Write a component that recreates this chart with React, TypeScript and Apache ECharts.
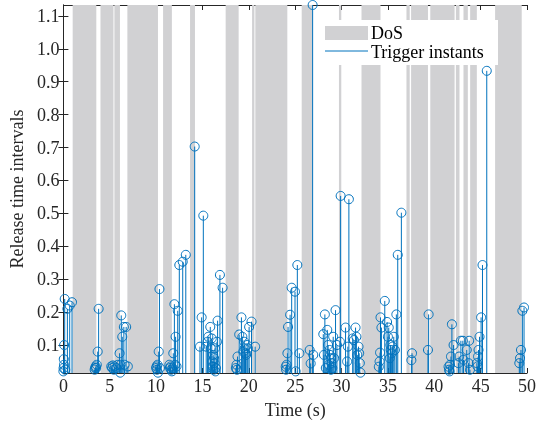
import React, { useEffect, useRef } from "react";
import * as echarts from "echarts";

const yMin = 0.015;
const yMax = 1.133;
const yTicks = [0.1, 0.2, 0.3, 0.4, 0.5, 0.6, 0.7, 0.8, 0.9, 1.0, 1.1];

const dosStart = [1.0, 4.0, 5.5, 6.9, 10.75, 13.66, 17.5, 20.35, 20.7, 25.7, 29.72, 32.15, 37.0, 37.5, 39.57, 42.33, 43.15, 43.87, 46.56];
const dosEnd = [3.55, 5.4, 6.1, 10.2, 11.7, 14.19, 18.9, 20.6, 24.15, 26.9, 29.97, 34.2, 37.35, 39.32, 42.19, 42.72, 43.62, 44.59, 49.43];

const triggerTimes = [
  0.0, 0.02, 0.04, 0.06, 0.08, 0.14, 0.2, 0.43, 0.68, 0.93,
  3.37, 3.42, 3.48, 3.53, 3.6, 3.7, 3.8,
  5.16, 5.25, 5.34, 5.43, 5.52, 5.7, 5.88, 6.06, 6.13, 6.18, 6.24, 6.35, 6.52, 6.6, 6.77, 6.95,
  10.0, 10.05, 10.1, 10.15, 10.2, 10.28, 10.36, 10.42,
  11.43, 11.5, 11.56, 11.62, 11.7, 11.78, 11.85, 11.97, 12.05, 12.1, 12.2, 12.33, 12.5, 12.87, 13.2,
  14.16,
  14.73, 14.91, 15.09, 15.4, 15.55, 15.63, 15.84, 15.9, 16.0, 16.05, 16.1, 16.15, 16.2, 16.25, 16.3, 16.35, 16.4, 16.45, 16.56, 16.63, 16.88, 17.17,
  18.6, 18.67, 18.72, 18.78, 18.96, 19.2, 19.3, 19.4, 19.5, 19.55, 19.64, 19.7, 19.82, 19.9, 20.03, 20.29, 20.68,
  23.98, 24.02, 24.07, 24.16, 24.23, 24.45, 24.62, 24.98, 25.05, 25.23, 25.45,
  26.56, 26.67, 26.88, 26.95,
  28.03, 28.1, 28.2, 28.3, 28.46, 28.55, 28.62, 28.7, 28.75, 28.82, 28.86, 28.9, 29.0, 29.1, 29.2, 29.35, 29.5, 29.82, 29.9,
  30.43, 30.6, 30.68, 30.79, 31.2, 31.33, 31.51, 31.6, 31.7, 31.83, 31.9, 31.97, 32.04,
  34.02, 34.1, 34.15, 34.2, 34.3, 34.66, 34.91, 35.0, 35.09, 35.2, 35.27, 35.3, 35.4, 35.5, 35.63, 35.75, 35.91, 36.06, 36.45,
  37.53, 37.6, 39.32, 39.39,
  41.54, 41.6, 41.65, 41.7, 41.8, 41.9, 42.08, 42.6, 42.68, 42.87, 43.08, 43.15, 43.5, 43.7, 43.76, 43.85,
  44.59, 44.66, 44.72, 44.77, 44.88, 45.05, 45.2, 45.66,
  49.17, 49.25, 49.35, 49.5, 49.68,
];

const intervals = [
  0.02, 0.03, 0.057, 0.04, 0.1, 0.24, 0.025, 0.21, 0.22, 0.23,
  0.025, 0.03, 0.035, 0.03, 0.04, 0.08, 0.21,
  0.035, 0.03, 0.038, 0.025, 0.035, 0.03, 0.04, 0.075, 0.016, 0.04, 0.19, 0.125, 0.155, 0.04, 0.155, 0.035,
  0.03, 0.035, 0.025, 0.04, 0.016, 0.08, 0.27, 0.03,
  0.04, 0.03, 0.035, 0.025, 0.02, 0.03, 0.075, 0.224, 0.04, 0.125, 0.035, 0.204, 0.343, 0.353, 0.374,
  0.703,
  0.095, 0.184, 0.493, 0.095, 0.11, 0.125, 0.155, 0.09, 0.12, 0.05, 0.035, 0.07, 0.025, 0.06, 0.045, 0.09, 0.02, 0.03, 0.11, 0.174, 0.313, 0.274,
  0.03, 0.04, 0.025, 0.065, 0.132, 0.184, 0.125, 0.08, 0.11, 0.09, 0.075, 0.07, 0.1, 0.09, 0.155, 0.171, 0.095,
  0.034, 0.025, 0.04, 0.075, 0.155, 0.192, 0.274, 0.262, 0.02, 0.343, 0.075,
  0.085, 0.044, 1.133, 0.07,
  0.133, 0.07, 0.193, 0.03, 0.146, 0.1, 0.04, 0.085, 0.07, 0.06, 0.025, 0.045, 0.03, 0.125, 0.06, 0.206, 0.1, 0.11, 0.553,
  0.153, 0.05, 0.095, 0.543, 0.12, 0.115, 0.153, 0.125, 0.07, 0.095, 0.075, 0.045, 0.016,
  0.034, 0.05, 0.077, 0.184, 0.153, 0.234, 0.17, 0.125, 0.153, 0.06, 0.1, 0.085, 0.075, 0.095, 0.125, 0.085, 0.193, 0.374, 0.502,
  0.054, 0.075, 0.085, 0.193,
  0.034, 0.025, 0.02, 0.04, 0.065, 0.163, 0.1, 0.045, 0.065, 0.113, 0.113, 0.055, 0.085, 0.045, 0.113, 0.025,
  0.045, 0.035, 0.065, 0.085, 0.125, 0.184, 0.343, 0.933,
  0.045, 0.06, 0.085, 0.204, 0.214,
];

const FONT = "Liberation Serif";
const AXIS_COLOR = "#262626";
const BLUE = "#0072BD";
const GRAY = "#d1d1d3";
const FS = 18;

export default function App() {
  const ref = useRef<HTMLDivElement>(null);
  useEffect(() => {
    if (!ref.current) return;
    const chart = echarts.init(ref.current, undefined, { renderer: "svg" });
    const dosData = dosStart.map((s, i) => [s, dosEnd[i]]);
    const stemData = triggerTimes.map((t, i) => [t, intervals[i]]);
    const axisLine = { show: true, lineStyle: { color: AXIS_COLOR, width: 1 } };
    const option: any = {
      animation: false,
      grid: { left: 62, right: 18, top: 5, bottom: 52 },
      xAxis: [
        {
          type: "value", min: 0, max: 50, interval: 5, position: "bottom",
          axisLine, axisTick: { show: true, inside: true, length: 5, lineStyle: { color: AXIS_COLOR } },
          axisLabel: { fontFamily: FONT, fontSize: FS, color: AXIS_COLOR, margin: 4 },
          splitLine: { show: false },
          name: "Time (s)", nameLocation: "middle", nameGap: 28,
          nameTextStyle: { fontFamily: FONT, fontSize: FS, color: AXIS_COLOR },
        },
        {
          type: "value", min: 0, max: 50, interval: 5, position: "top",
          axisLine, axisTick: { show: true, inside: true, length: 5, lineStyle: { color: AXIS_COLOR } },
          axisLabel: { show: false }, splitLine: { show: false },
        },
      ],
      yAxis: [
        {
          type: "value", min: yMin, max: yMax, position: "left",
          axisLine,
          axisTick: { show: true, inside: true, length: 5, customValues: yTicks, lineStyle: { color: AXIS_COLOR } },
          axisLabel: {
            customValues: yTicks, fontFamily: FONT, fontSize: FS, color: AXIS_COLOR, margin: 4,
            formatter: (v: number) => v.toFixed(1),
          },
          splitLine: { show: false },
          name: "Release time intervals", nameLocation: "middle", nameGap: 31,
          nameTextStyle: { fontFamily: FONT, fontSize: FS, color: AXIS_COLOR },
        },
        {
          type: "value", min: yMin, max: yMax, position: "right",
          axisLine,
          axisTick: { show: true, inside: true, length: 5, customValues: yTicks, lineStyle: { color: AXIS_COLOR } },
          axisLabel: { show: false }, splitLine: { show: false },
        },
      ],
      series: [
        {
          type: "custom", name: "DoS", xAxisIndex: 0, yAxisIndex: 0, z: 1,
          data: dosData,
          renderItem: (params: any, api: any) => {
            const p0 = api.coord([api.value(0), yMax]);
            const p1 = api.coord([api.value(1), yMin]);
            return {
              type: "rect",
              shape: { x: p0[0], y: p0[1], width: p1[0] - p0[0], height: p1[1] - p0[1] },
              style: { fill: GRAY },
            };
          },
        },
        {
          type: "custom", name: "Trigger instants", xAxisIndex: 0, yAxisIndex: 0, z: 3,
          data: stemData,
          renderItem: (params: any, api: any) => {
            const base = api.coord([api.value(0), yMin]);
            const top = api.coord([api.value(0), api.value(1)]);
            return {
              type: "group",
              children: [
                { type: "line", shape: { x1: base[0], y1: base[1], x2: top[0], y2: top[1] }, style: { stroke: BLUE, lineWidth: 1 } },
                { type: "circle", shape: { cx: top[0], cy: top[1], r: 4.5 }, style: { fill: "none", stroke: BLUE, lineWidth: 1 } },
              ],
            };
          },
        },
      ],
      graphic: [
        { type: "rect", z: 100, zlevel: 1, shape: { x: 322, y: 20, width: 176, height: 45 }, style: { fill: "#ffffff" } },
        { type: "rect", z: 101, zlevel: 1, shape: { x: 325, y: 26, width: 43, height: 14 }, style: { fill: GRAY } },
        { type: "line", z: 101, zlevel: 1, shape: { x1: 325, y1: 51, x2: 368, y2: 51 }, style: { stroke: BLUE, lineWidth: 1 } },
        { type: "text", z: 101, zlevel: 1, x: 371, y: 33, style: { text: "DoS", font: `${FS}px '${FONT}'`, fill: "#000", verticalAlign: "middle" } },
        { type: "text", z: 101, zlevel: 1, x: 371, y: 52, style: { text: "Trigger instants", font: `${FS}px '${FONT}'`, fill: "#000", verticalAlign: "middle" } },
      ],
    };
    chart.setOption(option);
    return () => chart.dispose();
  }, []);
  return <div ref={ref} style={{ position: "fixed", left: 0, top: 0, width: 545, height: 425 }} />;
}
